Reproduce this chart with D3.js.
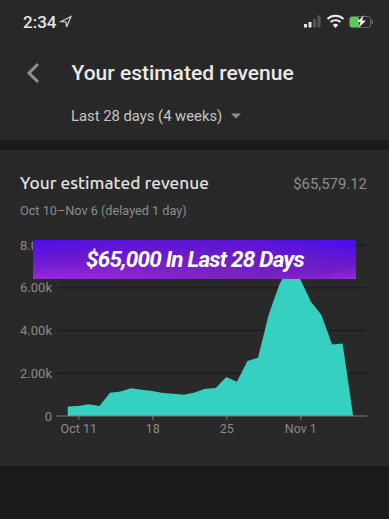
<!DOCTYPE html>
<html><head><meta charset="utf-8">
<script src="https://cdn.jsdelivr.net/npm/d3@7"></script>
<style>html,body{margin:0;padding:0;background:#282828;overflow:hidden}svg{display:block}</style>
</head><body><svg id="c" width="389" height="519"></svg>
<script>
const dayOffsets = [-1,0,1,2,3,4,5,6,7,8,9,10,11,12,13,14,15,16,17,18,19,20,21,22,23,24,25,26];
const revenue = [440,470,550,470,1090,1150,1300,1230,1170,1080,1040,1000,1100,1280,1310,1825,1600,2570,2730,4730,6130,7100,6400,5350,4730,3350,3390,0];
const yTicks = [0,2000,4000,6000,8000];
const yTickLabels = ["0","2.00k","4.00k","6.00k","8.00k"];
const xTicks = [0,7,14,21];
const xTickLabels = ["Oct 11","18","25","Nov 1"];

const svg = d3.select("#c");
const font = "Roboto, sans-serif";
const x = d3.scaleLinear().domain([0,21]).range([78.3,300.3]);
const y = d3.scaleLinear().domain([0,8000]).range([416,245]);

svg.append("rect").attr("width",389).attr("height",519).attr("fill","#282828");
svg.append("rect").attr("y",140).attr("width",389).attr("height",10).attr("fill","#1b1b1b");
svg.append("rect").attr("y",150).attr("width",389).attr("height",316).attr("fill","#292929");
svg.append("rect").attr("y",466).attr("width",389).attr("height",53).attr("fill","#1b1b1b");

const defs = svg.append("defs");
const g = defs.append("linearGradient").attr("id","ban").attr("x1","0").attr("y1","1").attr("x2","1").attr("y2","0");
g.append("stop").attr("offset","0").attr("stop-color","#9a28e6");
g.append("stop").attr("offset","0.35").attr("stop-color","#7a22c4");
g.append("stop").attr("offset","0.65").attr("stop-color","#6a1cc8");
g.append("stop").attr("offset","1").attr("stop-color","#4a0bf0");
const g2 = defs.append("linearGradient").attr("id","ban2").attr("x1","0").attr("y1","0").attr("x2","1").attr("y2","1");
g2.append("stop").attr("offset","0").attr("stop-color","#4d0cf2");
g2.append("stop").attr("offset","0.22").attr("stop-color","#5a12d8").attr("stop-opacity",.7);
g2.append("stop").attr("offset","0.5").attr("stop-color","#5a12d8").attr("stop-opacity",0);
g2.append("stop").attr("offset","0.8").attr("stop-color","#7a22c4").attr("stop-opacity",0);
g2.append("stop").attr("offset","1").attr("stop-color","#9c2ae6");

function txt(t,px,py,size,fill,anchor,weight,family){
  return svg.append("text").attr("x",px).attr("y",py).attr("font-size",size).attr("fill",fill)
    .attr("text-anchor",anchor||"start").attr("font-weight",weight||400).attr("font-family",family||font).text(t);
}
// status bar
txt("2:34",23,28,17,"#e6e6e6","start",500);
svg.append("path").attr("d","M71 16.5 L61 21.5 L66 22 L66.5 27 Z").attr("fill","none").attr("stroke","#d8d8d8").attr("stroke-width",1.2);
[[304,24],[308.5,22],[313,19],[317.5,15.5]].forEach((b,i)=>svg.append("rect").attr("x",b[0]).attr("y",b[1]).attr("width",3).attr("height",27.5-b[1]).attr("fill",i<2?"#e4e4e4":"#555"));
svg.append("path").attr("d",d3.arc()({innerRadius:0,outerRadius:4,startAngle:-0.75,endAngle:0.75})).attr("transform","translate(335.5,28)").attr("fill","#eee");
svg.append("path").attr("d","M330.5 22 A7.5 7.5 0 0 1 340.5 22").attr("fill","none").attr("stroke","#eee").attr("stroke-width",1.8);
svg.append("path").attr("d","M327.5 19 A11.5 11.5 0 0 1 343.5 19").attr("fill","none").attr("stroke","#eee").attr("stroke-width",1.8);
svg.append("rect").attr("x",349.5).attr("y",16.5).attr("width",21).attr("height",11).attr("rx",2.5).attr("fill","none").attr("stroke","#666");
svg.append("rect").attr("x",350).attr("y",17).attr("width",9).attr("height",10).attr("rx",1.5).attr("fill","#5fc65a");
svg.append("rect").attr("x",371.5).attr("y",20).attr("width",1.5).attr("height",4).attr("fill","#666");
svg.append("path").attr("d","M364 15 L357 22 L360.5 22 L358.5 28 L366 20.5 L362 20.5 Z").attr("fill","#f0f0f0");
// header
svg.append("path").attr("d","M38 64 L29 73 L38 82").attr("fill","none").attr("stroke","#8f8f8f").attr("stroke-width",3);
txt("Your estimated revenue",71.5,80,21,"#e9e9e9","start",500);
txt("Last 28 days (4 weeks)",71,121,14.8,"#c4c4c4");
svg.append("path").attr("d","M231 113.5 L241 113.5 L236 118.5 Z").attr("fill","#8c8c8c");
// card
txt("Your estimated revenue",20,189,17.3,"#e2e2e2","start",500,"Ubuntu, 'Noto Sans', sans-serif");
txt("$65,579.12",367,189,14.9,"#8d8d8d","end");
txt("Oct 10–Nov 6 (delayed 1 day)",20,215,12.7,"#8b8b8b");
// grid
const yAxis = d3.axisLeft(y).tickValues(yTicks).tickSize(0).tickPadding(0).tickFormat((d,i)=>yTickLabels[i]);
const ya = svg.append("g").attr("transform","translate(52,0)").call(yAxis);
ya.select(".domain").remove();
ya.selectAll("text").attr("font-family",font).attr("font-size",13).attr("fill","#8a8a8a");
svg.append("g").selectAll("line").data(yTicks.filter(d=>d>0)).join("line")
  .attr("x1",58).attr("x2",367).attr("y1",d=>y(d)).attr("y2",d=>y(d)).attr("stroke","#1c1c1c").attr("stroke-width",1.5);
// area
const area = d3.area().x((d,i)=>x(dayOffsets[i])).y0(y(0)).y1(d=>y(d));
svg.append("path").datum(revenue).attr("d",area).attr("fill","#35d0bf");
// x axis
const xAxis = d3.axisBottom(x).tickValues(xTicks).tickSize(4).tickPadding(4).tickFormat((d,i)=>xTickLabels[i]);
const xa = svg.append("g").attr("transform",`translate(0,${y(0)})`).call(xAxis);
xa.select(".domain").remove();
xa.selectAll("line").attr("stroke","#7c7c7c");
xa.selectAll("text").attr("font-family",font).attr("font-size",12.5).attr("fill","#8a8a8a");
svg.append("line").attr("x1",56).attr("x2",367).attr("y1",y(0)).attr("y2",y(0)).attr("stroke","#7c7c7c");
// banner
svg.append("rect").attr("x",33).attr("y",240).attr("width",323).attr("height",39).attr("fill","url(#ban)");
svg.append("rect").attr("x",33).attr("y",240).attr("width",323).attr("height",39).attr("fill","url(#ban2)");
txt("$65,000 In Last 28 Days",195,267,22.5,"#ffffff","middle",700,"Roboto, sans-serif").attr("font-style","italic").attr("letter-spacing",-0.8);
</script></body></html>
